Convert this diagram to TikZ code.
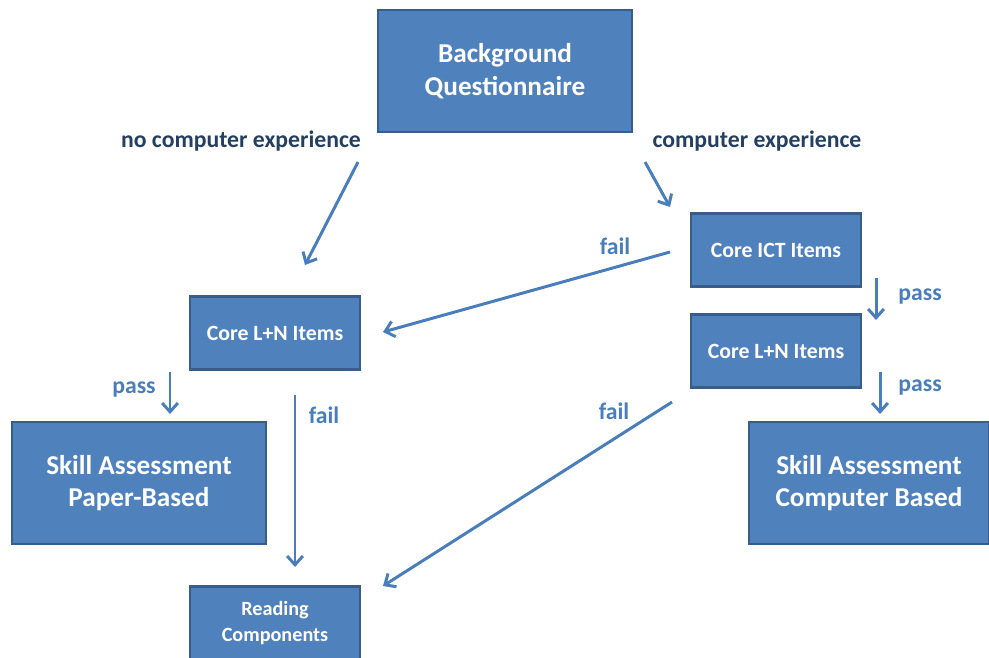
\documentclass[tikz,border=0pt]{standalone}
\usepackage{fontspec}
\setmainfont{Carlito}
\usetikzlibrary{arrows.meta}
\definecolor{boxfill}{HTML}{4F81BD}
\definecolor{boxline}{HTML}{385D8A}
\definecolor{navy}{HTML}{243F60}
\definecolor{flow}{HTML}{4A7EBB}
\begin{document}
\begin{tikzpicture}[x=0.02cm,y=-0.02cm,
  box/.style={fill=boxfill,draw=boxline,line width=1.6pt,text=white,font=\bfseries,align=center,inner sep=0pt},
  bigbox/.style={box,minimum width=5.08cm,minimum height=2.44cm,font=\fontsize{15.5}{18.5}\selectfont\bfseries},
  smallbox/.style={box,minimum width=3.4cm,minimum height=1.46cm,font=\fontsize{12.4}{15}\selectfont\bfseries},
  cond/.style={text=navy,font=\fontsize{13.5}{16}\selectfont\bfseries},
  res/.style={text=flow,font=\fontsize{13.5}{16}\selectfont\bfseries},
  flowarrow/.style={draw=flow,line width=1.7pt,-{Straight Barb[length=5pt,width=9pt]}}]
\useasboundingbox (0,0) rectangle (989,657);
\clip (0,0) rectangle (989,657);

\draw (505,71) node[bigbox](BQ) {Background\\Questionnaire};

\draw (241,141) node[cond](nocomp) {no computer experience};
\draw (757,141) node[cond](comp) {computer experience};

\draw (776,250) node[smallbox](ICT) {Core ICT Items};
\draw (275,333) node[smallbox](LNleft) {Core L+N Items};
\draw (776,351) node[smallbox](LNright) {Core L+N Items};

\draw (139,483) node[bigbox](paper) {Skill Assessment\\Paper-Based};
\draw (869,483) node[bigbox,minimum width=4.8cm](computer) {Skill Assessment\\Computer Based};
\draw (275,623) node[smallbox,font=\fontsize{11.5}{15.3}\selectfont\bfseries](reading) {Reading\\Components};

% arrow ends
\coordinate (nc1) at (358,162);
\coordinate (nc2) at (305,265);
\coordinate (c1) at (645,162);
\coordinate (c2) at (670,207);
\coordinate (f1a) at (670,252);
\coordinate (f1b) at (383,332);
\coordinate (p1a) at (876,278);
\coordinate (p1b) at (876,320);
\coordinate (p2a) at (880,372);
\coordinate (p2b) at (880,414);
\coordinate (f2a) at (672,402);
\coordinate (f2b) at (383,586);
\coordinate (p3a) at (170,372);
\coordinate (p3b) at (170,414);
\coordinate (f3a) at (295,395);
\coordinate (f3b) at (295,567);

\draw[flowarrow] (nc1) to (nc2);
\draw[flowarrow] (c1) to (c2);
\draw[flowarrow] (f1a) to (f1b);
\draw[flowarrow] (p1a) to (p1b);
\draw[flowarrow] (p2a) to (p2b);
\draw[flowarrow] (f2a) to (f2b);
\draw[flowarrow] (p3a) to (p3b);
\draw[flowarrow] (f3a) to (f3b);

\draw (615,246) node[res](fail1) {fail};
\draw (920,296) node[res](pass1) {pass};
\draw (920,387) node[res](pass2) {pass};
\draw (614,411) node[res](fail2) {fail};
\draw (134,389) node[res](pass3) {pass};
\draw (324,415) node[res](fail3) {fail};

\end{tikzpicture}
\end{document}
